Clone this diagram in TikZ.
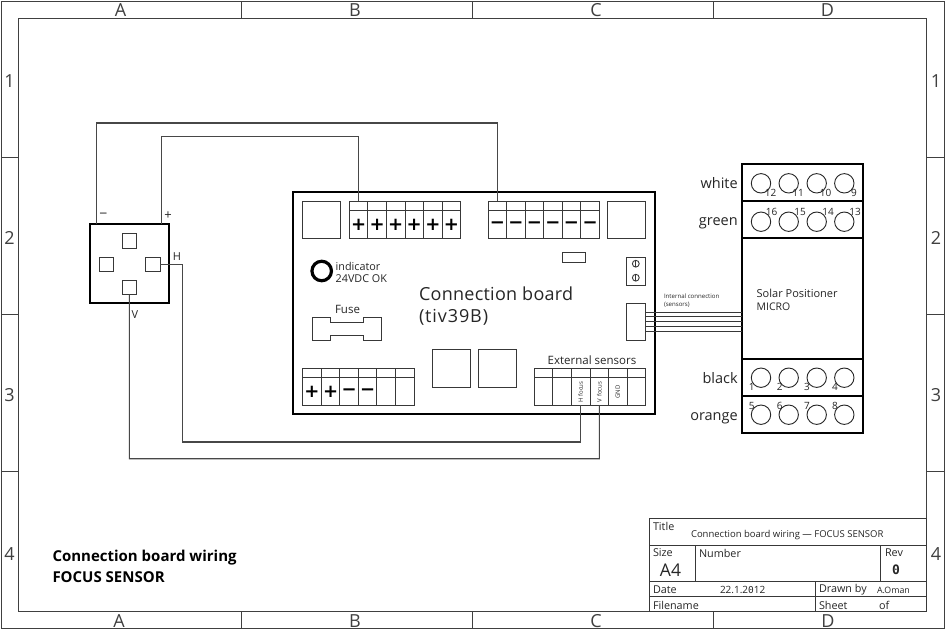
\documentclass[tikz,border=0pt]{standalone}
\usepackage{fontspec}
\setmainfont{Open Sans}
\newfontfamily\symfont{DejaVu Sans}
\newfontfamily\zfont{DejaVu Sans Mono}
\newcommand{\Bx}[6]{%
  \pgfmathsetmacro\bxw{#4-#2}\pgfmathsetmacro\bxh{#5-#3}%
  \pgfmathsetmacro\bxcx{(#4+#2)/2}\pgfmathsetmacro\bxcy{(#5+#3)/2}%
  \node[#6,minimum width=\bxw pt,minimum height=\bxh pt] (#1) at (\bxcx,\bxcy) {};}
\newcommand{\Terminal}[5]{% name x0 ytop ymid ybot (six cells of 18.55)
  \Bx{#1}{#2}{#3}{#2+111.3}{#5}{thinbox}
  \draw[thinline] (#2,#4) -- (#2+111.3,#4);
  \foreach \k in {1,...,5} \draw[thinline] (#2+\k*18.55,#3) -- (#2+\k*18.55,#5);}
\tikzset{
  thinbox/.style={draw=black!78,line width=0.9pt,inner sep=0pt,outer sep=0pt},
  heavybox/.style={draw=black,line width=2pt,inner sep=0pt,outer sep=0pt},
  thinline/.style={draw=black!78,line width=0.9pt},
  wire/.style={draw=black!72,line width=1.1pt,line join=miter},
  frameline/.style={draw=black!75,line width=0.9pt},
  lab/.style={inner sep=0pt,outer sep=0pt,text=black!85},
  zonelab/.style={lab,font=\fontsize{18}{18}\selectfont,text=black!75},
  sym/.style={inner sep=0pt,outer sep=0pt,font=\symfont\bfseries\fontsize{18}{18}\selectfont},
  pole/.style={draw=black!85,line width=0.9pt,circle,inner sep=0pt,outer sep=0pt,minimum size=19.4pt},
  nrlab/.style={lab,font=\fontsize{10}{10}\selectfont},
  tb/.style={lab,anchor=west,font=\fontsize{10.8}{10.8}\selectfont},
  small/.style={lab,anchor=west,font=\fontsize{6.1}{6.1}\selectfont},
  rot/.style={lab,rotate=90,font=\fontsize{6}{6}\selectfont},
}
\begin{document}
\begin{tikzpicture}[x=1pt,y=-1pt]
\useasboundingbox (0,0) rectangle (945,630);
\fill[white] (0,0) rectangle (945,630);
% frame
\draw[frameline] (1,1) rectangle (944,628.5);
\draw[frameline] (18.5,18.5) rectangle (926.5,611);
\foreach \x in {241,472.5,713} {\draw[frameline] (\x,1) -- (\x,18.5); \draw[frameline] (\x,611) -- (\x,628.5);}
\foreach \y in {157,314,471} {\draw[frameline] (1,\y) -- (18.5,\y); \draw[frameline] (926.5,\y) -- (944,\y);}
\node[zonelab] (zta) at (120.5,10) {A}; \node[zonelab] (ztb) at (355,10) {B};
\node[zonelab] (ztc) at (596,10) {C}; \node[zonelab] (ztd) at (827.5,10) {D};
\node[zonelab] (zba) at (119,621) {A}; \node[zonelab] (zbb) at (355,621) {B};
\node[zonelab] (zbc) at (596,621) {C}; \node[zonelab] (zbd) at (828,621) {D};
\foreach \n/\y in {1/81,2/238,3/395,4/554} {
  \node[zonelab] (zl\n) at (9.5,\y) {\n}; \node[zonelab] (zr\n) at (936,\y) {\n};}
% sensor
\Bx{sensor}{90}{224.3}{168.7}{303.3}{heavybox}
\Bx{pinT}{122}{233.7}{136.7}{248}{thinbox}
\Bx{pinL}{99}{257}{113.3}{271.3}{thinbox}
\Bx{pinR}{145.3}{257}{160}{271.3}{thinbox}
\Bx{pinB}{122}{280}{136.7}{294.3}{thinbox}
\node[lab,font=\fontsize{14}{14}\selectfont] (sm) at (103.5,216) {−};
\node[lab,font=\fontsize{13}{13}\selectfont] (sp) at (168,216) {+};
\node[lab,font=\fontsize{11}{11}\selectfont] (sh) at (177,257) {H};
\node[lab,font=\fontsize{11}{11}\selectfont] (sv) at (135,315) {V};
\coordinate (sensM) at (96.7,224.3);
\coordinate (sensP) at (161.7,224.3);
% board
\Bx{board}{293.3}{192.3}{655}{414.3}{heavybox}
\Bx{sqA}{302}{201}{340}{238}{thinbox}
\Bx{sqB}{607.3}{201}{645.7}{238}{thinbox}
\Terminal{plusT}{349.3}{201}{210.3}{238}
\Terminal{minusT}{488}{201}{210.3}{238}
\foreach \k in {0,...,5} {
  \node[sym] (pp\k) at (358.6+\k*18.55,225) {+};
  \node[sym] (mm\k) at (497.3+\k*18.55,225) {−};}
\Bx{smallr}{562}{252.7}{585.7}{262}{thinbox}
\Bx{screws}{626.7}{257}{645}{285}{thinbox}
\foreach \y in {263.7,277.7} {\draw[thinline] (635.8,\y) circle (3.4); \draw[thinline] (635.8,\y-3.4) -- (635.8,\y+3.4);}
\node[draw=black,line width=3.2pt,circle,inner sep=0pt,minimum size=19.5pt] (ind) at (321.7,271) {};
\node[lab,anchor=west,font=\fontsize{10.8}{10.8}\selectfont] (indt) at (335.7,266) {indicator};
\node[lab,anchor=west,font=\fontsize{10.8}{10.8}\selectfont] (indv) at (335.7,279) {24VDC OK};
\node[lab,anchor=west,font=\addfontfeature{LetterSpace=1.5}\fontsize{18}{18}\selectfont] (cb1) at (419,294) {Connection board};
\node[lab,anchor=west,font=\addfontfeature{LetterSpace=5}\fontsize{18}{18}\selectfont] (cb2) at (419,317) {(tiv39B)};
\node[lab,font=\fontsize{11.5}{11.5}\selectfont] (fuset) at (347.5,309) {Fuse};
\draw[thinline] (312,317.3) -- (330.7,317.3) -- (330.7,322.3) -- (363,322.3) -- (363,317.3) -- (381.7,317.3)
  -- (381.7,340.7) -- (363,340.7) -- (363,335) -- (330.7,335) -- (330.7,340.7) -- (312,340.7) -- cycle;
\Bx{sqC}{432.3}{349.7}{470.7}{387}{thinbox}
\Bx{sqD}{478.3}{349.7}{516.7}{387}{thinbox}
\Terminal{powT}{302.7}{368.3}{377.3}{405.3}
\node[sym] (b1) at (312,392) {+}; \node[sym] (b2) at (330.6,392) {+};
\node[sym] (b3) at (349.2,392) {−}; \node[sym] (b4) at (367.7,392) {−};
\Terminal{extT}{534.3}{368.3}{377.3}{405.3}
\node[lab,font=\fontsize{11.5}{11.5}\selectfont] (ext) at (592,360) {External sensors};
\node[rot] (hf) at (580.7,392) {H focus};
\node[rot] (vf) at (599.3,392) {V focus};
\node[rot] (gnd) at (617.8,392) {GND};
\Bx{conn}{626.7}{303.3}{645}{340.3}{thinbox}
\node[small] (ic1) at (664,296) {Internal connection};
\node[small] (ic2) at (664,304.8) {(sensors)};
% positioner
\Bx{pos}{742.3}{164.3}{862.7}{433.3}{heavybox}
\draw[line width=1.8pt] (pos.west |- 0,201.3) -- (pos.east |- 0,201.3);
\draw[line width=1.8pt] (pos.west |- 0,238.3) -- (pos.east |- 0,238.3);
\draw[line width=1.8pt] (pos.west |- 0,359.3) -- (pos.east |- 0,359.3);
\draw[line width=1.8pt] (pos.west |- 0,396) -- (pos.east |- 0,396);
\foreach \i/\x in {1/761,2/788.7,3/816.7,4/844.3} {
  \node[pole] (pa\i) at (\x,183.3) {}; \node[pole] (pb\i) at (\x,221.7) {};
  \node[pole] (pc\i) at (\x,377.7) {}; \node[pole] (pd\i) at (\x,414.7) {};}
\foreach \t/\x in {12/770.7,11/798,10/825.5,9/854} \node[nrlab] (na\t) at (\x,193) {\t};
\foreach \t/\x in {16/771.7,15/800,14/828,13/855} \node[nrlab] (nb\t) at (\x,211.7) {\t};
\foreach \t/\x in {1/751.7,2/779.7,3/807,4/835} \node[nrlab] (nc\t) at (\x,387) {\t};
\foreach \t/\x in {5/751.7,6/779.7,7/807,8/835} \node[nrlab] (nd\t) at (\x,406) {\t};
\foreach \t/\y in {white/188,green/225.7,black/383,orange/420}
  \node[lab,anchor=base east,font=\fontsize{14.5}{14.5}\selectfont] (l\t) at (737.7,\y) {\t};
\node[lab,anchor=west,font=\fontsize{11}{11}\selectfont] (sp1) at (756.7,293) {Solar Positioner};
\node[lab,anchor=west,font=\fontsize{10.5}{10.5}\selectfont] (sp2) at (756.7,306.7) {MICRO};
% wires
\coordinate (tPlus) at (358.3,201);
\coordinate (tMinus) at (497.3,201);
\coordinate (tH) at (580.7,405.3);
\coordinate (tV) at (599.3,405.3);
\draw[wire] (sensM) -- (96.7,123) -- (tMinus |- 0,123) -- (tMinus);
\draw[wire] (sensP) -- (161.7,136.7) -- (tPlus |- 0,136.7) -- (tPlus);
\draw[wire] (pinR.east) -- (182.3,264.15) -- (182.3,442) -- (tH |- 0,442) -- (tH);
\draw[wire] (pinB.south) -- (129.35,458.7) -- (tV |- 0,458.7) -- (tV);
\foreach \y in {312.7,316.7,321.7,326,331}
  \draw[thinline] (conn.east |- 0,\y) -- (pos.west |- 0,\y);
% title block
\Bx{tblock}{649.3}{518.3}{926.5}{611}{thinbox}
\draw[thinline] (649.3,545) -- (926.5,545);
\draw[thinline] (649.3,581.7) -- (926.5,581.7);
\draw[thinline] (649.3,596.7) -- (926.5,596.7);
\draw[thinline] (695,545) -- (695,581.7);
\draw[thinline] (880.7,545) -- (880.7,581.7);
\draw[thinline] (815,581.7) -- (815,611);
\node[tb] (t1) at (653,526) {Title};
\node[tb,font=\fontsize{9.5}{9.5}\selectfont] (t2) at (691,535) {Connection board wiring — FOCUS SENSOR};
\node[tb] (t3) at (653,553) {Size};
\node[lab,font=\fontsize{17.5}{17.5}\selectfont] (t4) at (670.5,570.5) {A4};
\node[tb] (t5) at (699,553) {Number};
\node[tb] (t6) at (885,553) {Rev};
\node[lab,font=\zfont\bfseries\fontsize{13}{13}\selectfont] (t7) at (896,570) {0};
\node[tb] (t8) at (653,590) {Date};
\node[tb,font=\fontsize{10}{10}\selectfont] (t9) at (720,590) {22.1.2{\zfont\fontsize{9.5}{9.5}\selectfont 0}12};
\node[tb] (t10) at (819,590) {Drawn by};
\node[tb,font=\fontsize{8.8}{8.8}\selectfont] (t11) at (877,590) {A.Oman};
\node[tb] (t12) at (653,605) {Filename};
\node[tb] (t13) at (819,605) {Sheet};
\node[tb] (t14) at (879,605) {of};
% caption
\node[lab,anchor=west,text=black,font=\bfseries\fontsize{15}{15}\selectfont] (c1) at (52.5,558) {Connection board wiring};
\node[lab,anchor=west,text=black,font=\bfseries\fontsize{15}{15}\selectfont] (c2) at (52.5,577) {FOCUS SENSOR};
\end{tikzpicture}
\end{document}
